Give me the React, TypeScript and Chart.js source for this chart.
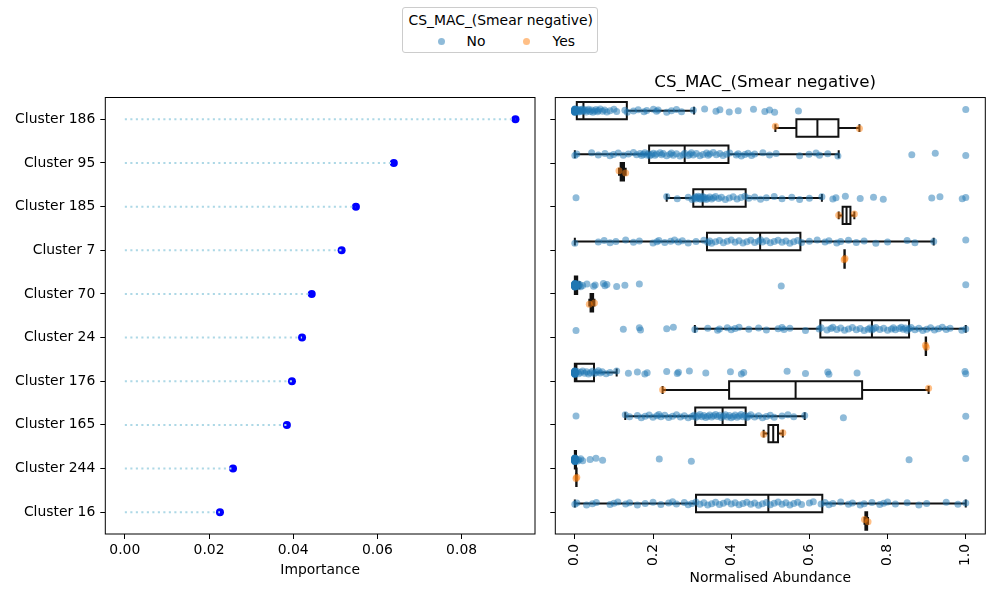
import { useEffect, useRef } from "react";
import { Chart, registerables } from "chart.js";

Chart.register(...registerables);
Chart.defaults.font.family = "'DejaVu Sans', sans-serif";
Chart.defaults.color = "#000";

const CLUSTERS = [
  "Cluster 186", "Cluster 95", "Cluster 185", "Cluster 7", "Cluster 70",
  "Cluster 24", "Cluster 176", "Cluster 165", "Cluster 244", "Cluster 16",
];
const IMPORTANCE = [0.0928, 0.0639, 0.0549, 0.0515, 0.0444, 0.0421, 0.0397, 0.0385, 0.0257, 0.0226];
const IMP_TICKS = [0, 0.02, 0.04, 0.06, 0.08];
const ABUND_TICKS = [0, 0.2, 0.4, 0.6, 0.8, 1.0];
const GROUPS = ["No", "Yes"];
const GROUP_TITLE = "CS_MAC_(Smear negative)";

// normalised abundance per sample, group "No"
const NO_POINTS: number[][] = [
  [0, 0, 0, 0, 0, 0, 0, 0, 0, 0, 0, 0, 0, 0, 0, 0, 0, 0, 0, 0, 0, 0, 0.002, 0.003, 0.004, 0.005, 0.007, 0.008,
    0.01, 0.012, 0.014, 0.016, 0.018, 0.02, 0.022, 0.025, 0.029, 0.032, 0.035, 0.039, 0.043, 0.046, 0.05,
    0.054, 0.058, 0.06, 0.065, 0.071, 0.076, 0.082, 0.09, 0.1, 0.107, 0.128, 0.134, 0.15, 0.162, 0.177,
    0.184, 0.201, 0.209, 0.213, 0.235, 0.247, 0.26, 0.273, 0.303, 0.332, 0.361, 0.371, 0.395, 0.418, 0.457,
    0.486, 0.498, 0.511, 0.572, 1.0],
  [0, 0.005, 0.043, 0.06, 0.077, 0.09, 0.099, 0.111, 0.124, 0.137, 0.15, 0.158, 0.167, 0.171, 0.175, 0.179,
    0.184, 0.188, 0.192, 0.196, 0.201, 0.205, 0.209, 0.218, 0.222, 0.226, 0.235, 0.243, 0.247, 0.252, 0.26,
    0.269, 0.277, 0.281, 0.29, 0.294, 0.298, 0.303, 0.311, 0.32, 0.328, 0.337, 0.341, 0.345, 0.354, 0.362,
    0.371, 0.379, 0.388, 0.396, 0.413, 0.418, 0.426, 0.435, 0.443, 0.452, 0.46, 0.481, 0.498, 0.515, 0.575,
    0.599, 0.617, 0.626, 0.647, 0.673, 0.862, 0.922, 1.0],
  [0.003, 0.235, 0.262, 0.29, 0.3, 0.305, 0.308, 0.31, 0.312, 0.315, 0.318, 0.32, 0.322, 0.325, 0.327, 0.33,
    0.333, 0.336, 0.34, 0.345, 0.35, 0.355, 0.36, 0.368, 0.375, 0.385, 0.395, 0.405, 0.415, 0.425, 0.435,
    0.445, 0.46, 0.475, 0.49, 0.51, 0.53, 0.555, 0.575, 0.6, 0.632, 0.66, 0.668, 0.692, 0.73, 0.764, 0.789,
    0.913, 0.934, 0.991, 1.0],
  [0, 0.06, 0.075, 0.09, 0.105, 0.13, 0.15, 0.165, 0.2, 0.21, 0.215, 0.23, 0.245, 0.255, 0.265, 0.275, 0.29,
    0.31, 0.33, 0.34, 0.345, 0.35, 0.36, 0.37, 0.38, 0.39, 0.4, 0.41, 0.42, 0.43, 0.44, 0.45, 0.46, 0.47,
    0.475, 0.48, 0.49, 0.5, 0.51, 0.52, 0.53, 0.54, 0.55, 0.56, 0.57, 0.58, 0.6, 0.62, 0.64, 0.65, 0.67,
    0.68, 0.7, 0.72, 0.74, 0.77, 0.8, 0.85, 0.87, 0.918, 1.0],
  [0, 0, 0, 0, 0, 0, 0, 0, 0, 0, 0, 0, 0, 0, 0, 0, 0, 0, 0, 0, 0, 0, 0, 0, 0, 0, 0, 0, 0, 0, 0.002, 0.004,
    0.006, 0.008, 0.01, 0.012, 0.015, 0.02, 0.031, 0.048, 0.052, 0.073, 0.077, 0.082, 0.107, 0.128, 0.165,
    0.528, 1.0],
  [0.003, 0.124, 0.165, 0.168, 0.235, 0.252, 0.307, 0.34, 0.365, 0.37, 0.39, 0.4, 0.41, 0.42, 0.445, 0.47,
    0.49, 0.52, 0.53, 0.535, 0.55, 0.59, 0.625, 0.63, 0.645, 0.655, 0.66, 0.67, 0.68, 0.69, 0.7, 0.71, 0.72,
    0.73, 0.74, 0.75, 0.755, 0.76, 0.765, 0.77, 0.78, 0.79, 0.8, 0.81, 0.815, 0.82, 0.83, 0.835, 0.84, 0.845,
    0.85, 0.855, 0.86, 0.87, 0.88, 0.89, 0.9, 0.91, 0.92, 0.93, 0.94, 0.95, 0.96, 0.99, 1.0],
  [0, 0, 0, 0, 0, 0, 0, 0, 0, 0, 0, 0, 0, 0, 0, 0, 0, 0, 0, 0, 0, 0, 0, 0, 0, 0.003, 0.006, 0.01, 0.015,
    0.02, 0.025, 0.03, 0.035, 0.04, 0.045, 0.05, 0.055, 0.06, 0.065, 0.07, 0.08, 0.09, 0.107, 0.137, 0.16,
    0.179, 0.185, 0.235, 0.262, 0.265, 0.293, 0.335, 0.398, 0.426, 0.432, 0.543, 0.59, 0.647, 0.65, 0.722,
    0.998, 1.0],
  [0.003, 0.129, 0.14, 0.16, 0.17, 0.18, 0.19, 0.2, 0.21, 0.215, 0.22, 0.23, 0.24, 0.25, 0.26, 0.27, 0.28,
    0.29, 0.3, 0.305, 0.31, 0.315, 0.32, 0.325, 0.33, 0.335, 0.34, 0.345, 0.35, 0.355, 0.36, 0.365, 0.37,
    0.375, 0.38, 0.385, 0.39, 0.395, 0.4, 0.405, 0.41, 0.415, 0.42, 0.425, 0.43, 0.435, 0.44, 0.445, 0.45,
    0.46, 0.47, 0.48, 0.49, 0.5, 0.51, 0.53, 0.545, 0.56, 0.588, 0.687, 1.0],
  [0, 0, 0, 0, 0, 0, 0, 0, 0, 0, 0, 0, 0, 0, 0, 0, 0, 0, 0, 0, 0, 0, 0, 0, 0, 0, 0, 0, 0, 0, 0.002, 0.004,
    0.006, 0.01, 0.015, 0.02, 0.039, 0.054, 0.071, 0.216, 0.298, 0.855, 1.0],
  [0, 0.005, 0.03, 0.045, 0.055, 0.09, 0.1, 0.11, 0.13, 0.14, 0.16, 0.18, 0.2, 0.22, 0.24, 0.25, 0.26, 0.28,
    0.29, 0.3, 0.31, 0.32, 0.33, 0.34, 0.35, 0.36, 0.37, 0.38, 0.39, 0.4, 0.41, 0.42, 0.43, 0.44, 0.45, 0.46,
    0.47, 0.48, 0.49, 0.5, 0.51, 0.52, 0.53, 0.54, 0.55, 0.56, 0.57, 0.58, 0.6, 0.61, 0.63, 0.64, 0.65, 0.66,
    0.68, 0.7, 0.71, 0.73, 0.74, 0.76, 0.78, 0.79, 0.8, 0.82, 0.85, 0.88, 0.9, 0.95, 0.98, 1.0],
];

// group "Yes" (two samples per cluster)
const YES_POINTS: number[][] = [
  [0.513, 0.728], [0.113, 0.13], [0.675, 0.715], [0.689, 0.691], [0.037, 0.05],
  [0.897, 0.899], [0.2245, 0.905], [0.483, 0.532], [0.003, 0.005], [0.741, 0.75],
];

// box stats for "No"
const NO_LO = [0, 0, 0.235, 0, 0, 0.307, 0, 0.129, 0, 0];
const NO_Q1 = [0.005, 0.19, 0.303, 0.338, 0, 0.628, 0, 0.308, 0, 0.31];
const NO_MED = [0.022, 0.281, 0.327, 0.474, 0.002, 0.76, 0.004, 0.378, 0, 0.495];
const NO_Q3 = [0.133, 0.393, 0.437, 0.577, 0.006, 0.855, 0.049, 0.437, 0.003, 0.633];
const NO_HI = [0.305, 0.675, 0.632, 0.918, 0.012, 1.0, 0.107, 0.588, 0.005, 1.0];

const BLUE = "rgba(31,119,180,0.5)";
const ORANGE = "rgba(255,127,14,0.5)";
const DODGE = 0.2;
const BOX_HALF = 0.2;
const CAP_HALF = 0.09;
const JITTER = 0.04;

type Stats = { lo: number; q1: number; med: number; q3: number; hi: number };

const quantile = (arr: number[], p: number) => {
  const s = [...arr].sort((a, b) => a - b);
  const pos = (s.length - 1) * p;
  const lo = Math.floor(pos);
  const hi = Math.ceil(pos);
  return s[lo] + (s[hi] - s[lo]) * (pos - lo);
};

const noStats: Stats[] = CLUSTERS.map((_, i) => ({
  lo: NO_LO[i], q1: NO_Q1[i], med: NO_MED[i], q3: NO_Q3[i], hi: NO_HI[i],
}));
const yesStats: Stats[] = YES_POINTS.map((v) => ({
  lo: Math.min(...v), q1: quantile(v, 0.25), med: quantile(v, 0.5), q3: quantile(v, 0.75), hi: Math.max(...v),
}));

const jit = (k: number) => (((k * 0.6180339887) % 1) - 0.5) * 2 * JITTER;

const FONT = { size: 13.9 };

const frame = {
  id: "frame",
  afterDraw(chart: any) {
    const { ctx, chartArea: a } = chart;
    ctx.save();
    ctx.strokeStyle = "#000";
    ctx.lineWidth = 1;
    ctx.strokeRect(a.left, a.top, a.right - a.left, a.bottom - a.top);
    ctx.restore();
  },
};

const boxes = {
  id: "boxes",
  beforeDatasetsDraw(chart: any) {
    const { ctx } = chart;
    const xs = chart.scales.x;
    const ys = chart.scales.y;
    const px = (v: number) => xs.getPixelForValue(v);
    const py = (v: number) => ys.getPixelForValue(v);
    const draw = (yc: number, s: Stats) => {
      const top = py(yc - BOX_HALF);
      const bot = py(yc + BOX_HALF);
      const mid = py(yc);
      const cT = py(yc - CAP_HALF);
      const cB = py(yc + CAP_HALF);
      ctx.beginPath();
      ctx.rect(px(s.q1), top, px(s.q3) - px(s.q1), bot - top);
      ctx.moveTo(px(s.med), top);
      ctx.lineTo(px(s.med), bot);
      ctx.moveTo(px(s.lo), mid);
      ctx.lineTo(px(s.q1), mid);
      ctx.moveTo(px(s.q3), mid);
      ctx.lineTo(px(s.hi), mid);
      ctx.moveTo(px(s.lo), cT);
      ctx.lineTo(px(s.lo), cB);
      ctx.moveTo(px(s.hi), cT);
      ctx.lineTo(px(s.hi), cB);
      ctx.stroke();
    };
    ctx.save();
    ctx.strokeStyle = "#111";
    ctx.lineWidth = 2;
    CLUSTERS.forEach((_, i) => {
      draw(i - DODGE, noStats[i]);
      draw(i + DODGE, yesStats[i]);
    });
    ctx.restore();
  },
};

const catTicks = (axis: any) => {
  axis.ticks = CLUSTERS.map((_, i) => ({ value: i }));
};

function Importance() {
  const canvasRef = useRef<HTMLCanvasElement | null>(null);

  useEffect(() => {
    const stems = CLUSTERS.map((_, i) => ({
      type: "line" as const,
      data: [{ x: 0, y: i }, { x: IMPORTANCE[i], y: i }],
      showLine: true,
      borderColor: "#add8e6",
      borderWidth: 2,
      borderDash: [2.1, 3.4],
      pointRadius: 0,
    }));
    const chart = new Chart(canvasRef.current!, {
      type: "scatter",
      data: {
        datasets: [
          ...stems,
          {
            data: IMPORTANCE.map((v, i) => ({ x: v, y: i })),
            backgroundColor: "#0000ff",
            borderColor: "#0000ff",
            pointRadius: 4,
            borderWidth: 0,
          },
        ] as any,
      },
      options: {
        animation: false,
        responsive: true,
        maintainAspectRatio: false,
        events: [],
        layout: { padding: { top: 37.5, right: 5, bottom: 0, left: 0 } },
        plugins: { legend: { display: false }, tooltip: { enabled: false } },
        scales: {
          x: {
            type: "linear",
            min: -0.00464,
            max: 0.09744,
            afterBuildTicks: (axis: any) => { axis.ticks = IMP_TICKS.map((v) => ({ value: v })); },
            afterFit: (s: any) => { s.height = 66; },
            ticks: { font: FONT, padding: 3, maxRotation: 0, callback: (v: any) => Number(v).toFixed(2) },
            grid: { drawOnChartArea: false, drawTicks: true, tickLength: 5, color: "#000" },
            border: { display: false },
            title: { display: true, text: "Importance", font: FONT, padding: { top: 0, bottom: 21.5 } },
          },
          y: {
            type: "linear",
            min: -0.5,
            max: 9.5,
            reverse: true,
            afterBuildTicks: catTicks,
            afterFit: (s: any) => { s.width = 105.3; },
            ticks: { font: FONT, padding: 5, callback: (v: any) => CLUSTERS[v] ?? "" },
            grid: { drawOnChartArea: false, drawTicks: true, tickLength: 5, color: "#000" },
            border: { display: false },
          },
        },
      },
      plugins: [frame],
    });
    return () => chart.destroy();
  }, []);

  return <canvas ref={canvasRef} />;
}

function Abundance() {
  const canvasRef = useRef<HTMLCanvasElement | null>(null);

  useEffect(() => {
    let k = 0;
    const noData = NO_POINTS.flatMap((vals, i) => vals.map((v) => ({ x: v, y: i - DODGE + jit(++k) })));
    const yesData = YES_POINTS.flatMap((vals, i) => vals.map((v) => ({ x: v, y: i + DODGE + jit(++k) })));
    const chart = new Chart(canvasRef.current!, {
      type: "scatter",
      data: {
        datasets: [
          { label: GROUPS[0], data: noData, backgroundColor: BLUE, pointRadius: 3.5, borderWidth: 0 },
          { label: GROUPS[1], data: yesData, backgroundColor: ORANGE, pointRadius: 3.5, borderWidth: 0 },
        ],
      },
      options: {
        animation: false,
        responsive: true,
        maintainAspectRatio: false,
        events: [],
        layout: { padding: { top: 0, right: 9.7, bottom: 0, left: 0 } },
        plugins: {
          legend: { display: false },
          tooltip: { enabled: false },
          title: {
            display: true,
            text: GROUP_TITLE,
            color: "#000",
            font: { size: 16.7, weight: "normal" },
            padding: { top: 13, bottom: 4.5 },
          },
        },
        scales: {
          x: {
            type: "linear",
            min: -0.05,
            max: 1.05,
            afterBuildTicks: (axis: any) => { axis.ticks = ABUND_TICKS.map((v) => ({ value: v })); },
            afterFit: (s: any) => { s.height = 66; },
            ticks: {
              font: FONT,
              padding: 5,
              minRotation: 90,
              maxRotation: 90,
              callback: (v: any) => Number(v).toFixed(1),
            },
            grid: { drawOnChartArea: false, drawTicks: true, tickLength: 5, color: "#000" },
            border: { display: false },
            title: { display: true, text: "Normalised Abundance", font: FONT, padding: { top: 0, bottom: 13.7 } },
          },
          y: {
            type: "linear",
            min: -0.5,
            max: 9.5,
            reverse: true,
            afterBuildTicks: catTicks,
            afterFit: (s: any) => { s.width = 10.3; },
            ticks: { font: FONT, padding: 0, callback: () => "" },
            grid: { drawOnChartArea: false, drawTicks: true, tickLength: 5, color: "#000" },
            border: { display: false },
          },
        },
      },
      plugins: [boxes, frame],
    });
    return () => chart.destroy();
  }, []);

  return <canvas ref={canvasRef} />;
}

function Legend() {
  const dot = (color: string, left: number) => (
    <span
      style={{
        position: "absolute", left: left - 3.5, top: 29.5, width: 7, height: 7,
        borderRadius: "50%", background: color,
      }}
    />
  );
  const text = (t: string, left: number, top: number) => (
    <span style={{ position: "absolute", left, top, lineHeight: "16px", whiteSpace: "nowrap" }}>{t}</span>
  );
  return (
    <div
      style={{
        position: "absolute", left: 402, top: 7, width: 194, height: 44,
        border: "1px solid #cccccc", borderRadius: 3, background: "rgba(255,255,255,0.8)",
        fontFamily: "'DejaVu Sans', sans-serif", fontSize: 13.9, color: "#000",
      }}
    >
      {text(GROUP_TITLE, 5.5, 3.5)}
      {dot(BLUE, 38.5)}
      {text(GROUPS[0], 63.5, 24.7)}
      {dot(ORANGE, 123.5)}
      {text(GROUPS[1], 149.5, 24.7)}
    </div>
  );
}

export default function App() {
  return (
    <div style={{ position: "fixed", left: 0, top: 0, width: 1000, height: 600, background: "#fff" }}>
      <Legend />
      <div style={{ position: "absolute", left: 0, top: 60, width: 540, height: 540 }}>
        <Importance />
      </div>
      <div style={{ position: "absolute", left: 545, top: 60, width: 450, height: 540 }}>
        <Abundance />
      </div>
    </div>
  );
}
